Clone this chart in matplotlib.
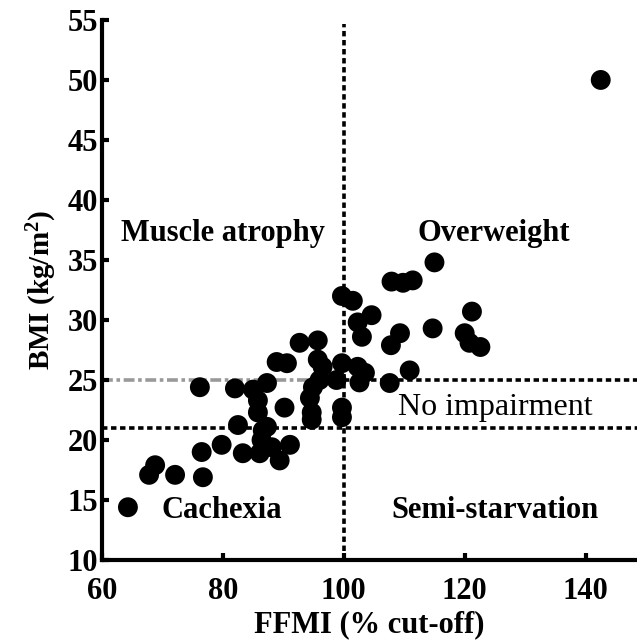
import matplotlib
matplotlib.use("Agg")
import matplotlib.pyplot as plt

# ----------------------------------------------------------------------
# data
# ----------------------------------------------------------------------
ffmi = [64.3, 67.8, 68.8, 72.1, 76.7, 76.5, 79.8, 76.2, 82.0, 85.0,
        87.3, 88.9, 90.6, 92.7, 95.7, 85.8, 90.2, 87.3, 82.5, 83.3,
        86.1, 86.4, 88.1, 89.4, 91.1, 94.4, 94.7, 94.7, 99.7, 99.7,
        96.5, 99.7, 102.3, 103.5, 96.0, 98.8, 102.6, 94.9, 99.7, 101.5,
        104.6, 103.0, 109.3, 107.8, 110.9, 107.6, 107.9, 109.8, 111.4, 115.0,
        121.2, 114.7, 120.0, 120.8, 122.6, 142.5, 95.7, 85.8, 102.3, 86.6]
bmi = [14.4, 17.1, 17.9, 17.1, 16.9, 19.0, 19.6, 24.4, 24.3, 24.2,
       24.75, 26.5, 26.4, 28.1, 28.3, 22.3, 22.7, 21.1, 21.25, 18.9,
       18.9, 20.0, 19.4, 18.3, 19.6, 23.5, 22.3, 21.7, 22.7, 21.9,
       26.1, 26.4, 26.1, 25.6, 25.0, 25.0, 24.8, 24.4, 32.0, 31.6,
       30.4, 28.6, 28.9, 27.9, 25.8, 24.75, 33.2, 33.1, 33.3, 34.8,
       30.7, 29.3, 28.9, 28.1, 27.75, 50.0, 26.7, 23.3, 29.8, 20.8]

region_labels = ["Muscle atrophy", "Overweight", "No impairment", "Cachexia", "Semi-starvation"]
region_x = [80.0, 124.9, 125.0, 79.8, 125.0]
region_y = [37.2, 37.2, 22.75, 14.1, 14.1]
region_weight = ["bold", "bold", "normal", "bold", "bold"]
region_size = [22, 22, 23, 22, 22]

ffmi_cut = 100
bmi_low, bmi_high = 21, 25

# ----------------------------------------------------------------------
# plot
# ----------------------------------------------------------------------
plt.rcParams["font.family"] = ["Liberation Serif", "DejaVu Serif"]
plt.rcParams["font.weight"] = "bold"
plt.rcParams["mathtext.fontset"] = "custom"
plt.rcParams["mathtext.rm"] = "Liberation Serif:bold"
plt.rcParams["mathtext.default"] = "rm"

fig = plt.figure(figsize=(6.37, 6.43), dpi=100)
ax = fig.add_axes([0.160, 0.129, 0.840, 0.840])

dash = (0, (1.5, 1.0))
ax.plot([ffmi_cut, ffmi_cut], [10, 54.7], color="black", lw=2.6, ls=dash, zorder=1)
ax.plot([60, 148.5], [bmi_low, bmi_low], color="black", lw=2.6, ls=dash, zorder=1)
ax.plot([60, ffmi_cut], [bmi_high, bmi_high], color="#999999", lw=2.6,
        ls=(0, (3.0, 1.0, 1.0, 1.0)), zorder=1)
ax.plot([ffmi_cut, 148.5], [bmi_high, bmi_high], color="black", lw=2.6, ls=dash, zorder=1)

ax.scatter(ffmi, bmi, s=205, color="black", edgecolors="none", zorder=3)

for lab, tx, ty, fw, fs in zip(region_labels, region_x, region_y, region_weight, region_size):
    ax.text(tx, ty, lab, ha="center", va="center", fontsize=fs, fontweight=fw)

ax.set_xlim(60, 148.5)
ax.set_ylim(10, 55)
ax.set_xticks([60, 80, 100, 120, 140])
ax.set_yticks(range(10, 56, 5))
ax.spines["top"].set_visible(False)
ax.spines["right"].set_visible(False)
ax.spines["left"].set_linewidth(3)
ax.spines["bottom"].set_linewidth(3)
ax.tick_params(direction="in", length=5, width=3, labelsize=22)
ax.tick_params(axis="x", pad=12)
ax.tick_params(axis="y", pad=3)
for lab in ax.get_xticklabels() + ax.get_yticklabels():
    lab.set_fontweight("bold")

ax.set_xlabel("FFMI (% cut-off)", fontsize=22, fontweight="bold", labelpad=3)
ax.set_ylabel("BMI (kg/m$^2$)", fontsize=21, fontweight="bold", labelpad=6)

fig.savefig("out.png", dpi=100)
